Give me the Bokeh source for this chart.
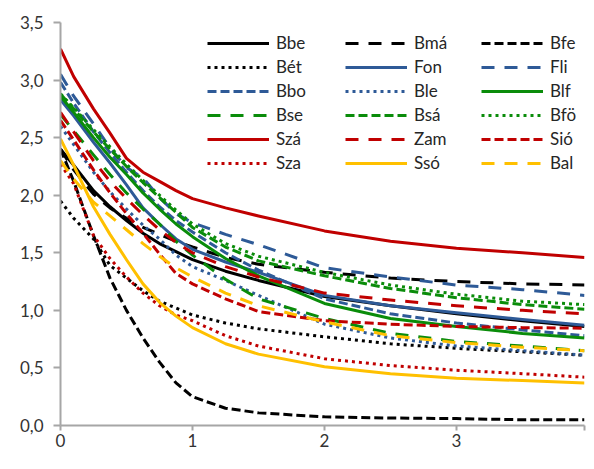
from bokeh.plotting import figure
from bokeh.models import Legend, LegendItem, FixedTicker, Range1d
from bokeh.embed import file_html
from bokeh.resources import INLINE

# ---- data ----
x = [0, 0.1, 0.25, 0.375, 0.5, 0.625, 0.75, 0.875, 1.0, 1.25, 1.5, 2.0, 2.5, 3.0, 3.5, 3.97]

Bbe = [2.40, 2.26, 2.04, 1.90, 1.78, 1.67, 1.58, 1.51, 1.44, 1.34, 1.26, 1.12, 1.04, 0.97, 0.91, 0.86]
Bma = [2.40, 2.22, 2.01, 1.89, 1.80, 1.72, 1.66, 1.60, 1.55, 1.46, 1.40, 1.33, 1.28, 1.25, 1.23, 1.22]
Bfe = [2.40, 2.12, 1.65, 1.28, 1.00, 0.76, 0.55, 0.37, 0.25, 0.15, 0.11, 0.075, 0.065, 0.06, 0.05, 0.05]
Bet = [1.95, 1.80, 1.62, 1.39, 1.28, 1.17, 1.08, 1.02, 0.96, 0.89, 0.84, 0.77, 0.71, 0.67, 0.64, 0.61]
Fon = [2.83, 2.69, 2.46, 2.28, 2.09, 1.89, 1.75, 1.62, 1.53, 1.42, 1.33, 1.13, 1.04, 0.98, 0.92, 0.87]
Fli = [3.05, 2.86, 2.62, 2.41, 2.24, 2.15, 1.98, 1.84, 1.76, 1.66, 1.57, 1.37, 1.29, 1.22, 1.18, 1.13]
Bbo = [2.98, 2.80, 2.55, 2.37, 2.20, 2.04, 1.90, 1.78, 1.68, 1.50, 1.35, 1.10, 0.97, 0.89, 0.83, 0.78]
Ble = [2.60, 2.44, 2.20, 2.03, 1.88, 1.74, 1.62, 1.48, 1.38, 1.26, 1.13, 0.88, 0.76, 0.69, 0.65, 0.61]
Blf = [2.86, 2.72, 2.50, 2.33, 2.18, 2.02, 1.88, 1.75, 1.64, 1.45, 1.30, 1.06, 0.93, 0.86, 0.80, 0.76]
Bse = [2.70, 2.56, 2.35, 2.18, 2.02, 1.88, 1.75, 1.60, 1.48, 1.27, 1.10, 0.93, 0.80, 0.73, 0.69, 0.65]
Bsa = [2.88, 2.75, 2.55, 2.40, 2.25, 2.11, 1.98, 1.85, 1.72, 1.55, 1.43, 1.30, 1.19, 1.11, 1.05, 1.01]
Bfo = [2.88, 2.76, 2.57, 2.42, 2.27, 2.13, 2.00, 1.87, 1.75, 1.58, 1.47, 1.33, 1.22, 1.14, 1.08, 1.05]
Szaa = [3.27, 3.03, 2.75, 2.54, 2.32, 2.20, 2.12, 2.04, 1.97, 1.89, 1.82, 1.69, 1.60, 1.54, 1.50, 1.46]
Zam = [2.72, 2.55, 2.30, 2.12, 1.97, 1.83, 1.70, 1.59, 1.50, 1.38, 1.29, 1.15, 1.09, 1.04, 1.00, 0.97]
Sio = [2.65, 2.48, 2.22, 2.02, 1.84, 1.67, 1.49, 1.32, 1.23, 1.10, 0.99, 0.91, 0.88, 0.86, 0.85, 0.845]
Sza = [2.27, 2.10, 1.65, 1.45, 1.29, 1.15, 1.04, 0.96, 0.91, 0.78, 0.69, 0.58, 0.52, 0.48, 0.45, 0.42]
Sso = [2.49, 2.26, 1.90, 1.66, 1.44, 1.23, 1.07, 0.95, 0.85, 0.71, 0.62, 0.51, 0.45, 0.41, 0.39, 0.37]
Bal = [2.30, 2.14, 1.94, 1.82, 1.70, 1.58, 1.47, 1.37, 1.29, 1.15, 1.04, 0.90, 0.78, 0.72, 0.68, 0.65]

names = ["Bbe", "Bmá", "Bfe", "Bét", "Fon", "Fli", "Bbo", "Ble", "Blf",
         "Bse", "Bsá", "Bfö", "Szá", "Zam", "Sió", "Sza", "Ssó", "Bal"]
series = [Bbe, Bma, Bfe, Bet, Fon, Fli, Bbo, Ble, Blf,
          Bse, Bsa, Bfo, Szaa, Zam, Sio, Sza, Sso, Bal]

y_ticks = [0.0, 0.5, 1.0, 1.5, 2.0, 2.5, 3.0, 3.5]
y_tick_labels = ["0,0", "0,5", "1,0", "1,5", "2,0", "2,5", "3,0", "3,5"]
x_ticks = [0, 1, 2, 3]
x_tick_labels = ["0", "1", "2", "3"]
x_max = 3.97

# ---- styles ----
BLACK = "#000000"
BLUE = "#2E5A97"
GREEN = "#0A8C0A"
RED = "#C00000"
YELLOW = "#FFC000"
SOLID, LONG, SHORT, DOT = "solid", "13 10", "9 4", "3 4"

styles = [
    (BLACK, SOLID), (BLACK, LONG), (BLACK, SHORT),
    (BLACK, DOT), (BLUE, SOLID), (BLUE, LONG),
    (BLUE, SHORT), (BLUE, DOT), (GREEN, SOLID),
    (GREEN, LONG), (GREEN, SHORT), (GREEN, DOT),
    (RED, SOLID), (RED, LONG), (RED, SHORT),
    (RED, DOT), (YELLOW, SOLID), (YELLOW, LONG),
]

FONT = "Lato"

p = figure(width=586, height=453, output_backend="svg", toolbar_location=None,
           x_range=Range1d(0, x_max), y_range=Range1d(0, 3.5),
           min_border_left=60, min_border_right=2, min_border_top=22,
           min_border_bottom=28)
p.outline_line_color = None
p.xgrid.visible = False
p.ygrid.visible = False
p.background_fill_color = "white"
p.border_fill_color = "white"

renderers = []
for ys, (col, dash) in zip(series, styles):
    r = p.line(x, ys, line_color=col, line_width=3, line_dash=dash,
               line_join="round")
    renderers.append(r)

AX = "#A6A6A6"
for ax in (p.xaxis[0], p.yaxis[0]):
    ax.axis_line_color = AX
    ax.axis_line_width = 2
    ax.major_tick_line_color = AX
    ax.major_tick_line_width = 2
    ax.minor_tick_line_color = None
    ax.major_tick_in = 0
    ax.major_label_text_font = FONT
    ax.major_label_text_font_size = "17px"
    ax.major_label_text_color = "#333333"

p.yaxis[0].ticker = FixedTicker(ticks=y_ticks)
p.yaxis[0].major_label_overrides = dict(zip(y_ticks, y_tick_labels))
p.yaxis[0].major_tick_out = 7
p.yaxis[0].major_label_standoff = 10

p.xaxis[0].ticker = FixedTicker(ticks=x_ticks + [x_max])
p.xaxis[0].major_label_overrides = {**dict(zip(x_ticks, x_tick_labels)), x_max: ""}
p.xaxis[0].major_tick_out = 5
p.xaxis[0].major_label_standoff = 3

col_x = [147, 285, 421]
for c in range(3):
    items = [LegendItem(label=names[i], renderers=[renderers[i]])
             for i in range(c, 18, 3)]
    lg = Legend(items=items, location=(col_x[c], 252),
                glyph_width=62, glyph_height=20, label_height=20,
                label_standoff=7, spacing=3, padding=0, margin=0,
                border_line_alpha=0, background_fill_alpha=0,
                label_text_font=FONT, label_text_font_size="17px",
                label_text_color="#262626")
    p.add_layout(lg, "center")

open("out.html", "w").write(file_html(p, INLINE))
